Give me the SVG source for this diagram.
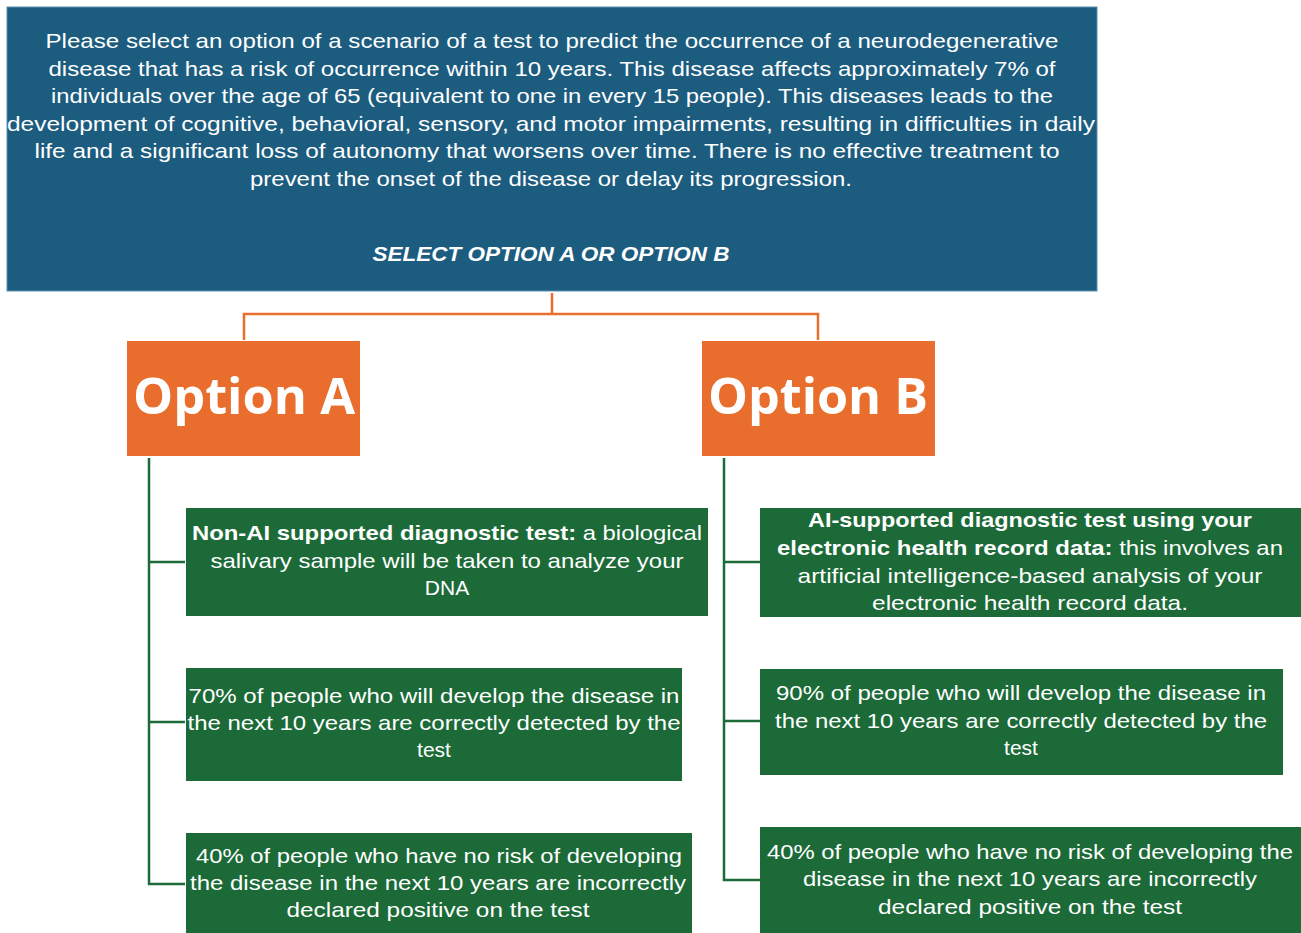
<svg xmlns="http://www.w3.org/2000/svg" width="1301" height="933" viewBox="0 0 1301 933">
<style>
.t{font-family:"Liberation Sans",Arial,sans-serif;fill:#fff;font-size:21px;text-anchor:middle}
.b{font-weight:bold}
.opt{font-family:"Open Sans","Liberation Sans",sans-serif;font-weight:bold;fill:#fff;font-size:50px;text-anchor:middle}
.g{fill:#1b6a37}
.o{fill:#e96e2e}
.cg{stroke:#1b6a37;stroke-width:2.5;fill:none}
.co{stroke:#e96e2e;stroke-width:2.5;fill:none}
</style>
<rect width="1301" height="933" fill="#fff"/>
<g id="connectors">
<path class="co" d="M552 293V314M244 340V314H818V340"/>
<path class="cg" d="M149 458V884H185M149 562H185M149 722H185"/>
<path class="cg" d="M724 458V880H760M724 562H760M724 721H760"/>
</g>
<g id="header">
<rect x="7" y="7" width="1090" height="284" fill="#1c5c7f" stroke="#5d8fb0" stroke-width="1"/>
<text class="t" x="552" y="48" textLength="1013" lengthAdjust="spacingAndGlyphs">Please select an option of a scenario of a test to predict the occurrence of a neurodegenerative</text>
<text class="t" x="552" y="76" textLength="1007" lengthAdjust="spacingAndGlyphs">disease that has a risk of occurrence within 10 years. This disease affects approximately 7% of</text>
<text class="t" x="552" y="103" textLength="1002" lengthAdjust="spacingAndGlyphs">individuals over the age of 65 (equivalent to one in every 15 people). This diseases leads to the</text>
<text class="t" x="551" y="131" textLength="1088" lengthAdjust="spacingAndGlyphs">development of cognitive, behavioral, sensory, and motor impairments, resulting in difficulties in daily</text>
<text class="t" x="547" y="158" textLength="1025" lengthAdjust="spacingAndGlyphs">life and a significant loss of autonomy that worsens over time. There is no effective treatment to</text>
<text class="t" x="551" y="186" textLength="602" lengthAdjust="spacingAndGlyphs">prevent the onset of the disease or delay its progression.</text>
<text class="t b" x="551" y="261" font-style="italic" textLength="357" lengthAdjust="spacingAndGlyphs">SELECT OPTION A OR OPTION B</text>
</g>
<g id="optionA">
<rect class="o" x="127" y="341" width="233" height="115"/>
<text class="opt" x="244" y="414" textLength="222" lengthAdjust="spacingAndGlyphs">Option A</text>
</g>
<g id="optionB">
<rect class="o" x="702" y="341" width="233" height="115"/>
<text class="opt" x="818" y="414" textLength="220" lengthAdjust="spacingAndGlyphs">Option B</text>
</g>
<g id="a1">
<rect class="g" x="186" y="508" width="522" height="108"/>
<text class="t" x="447" y="540" textLength="510" lengthAdjust="spacingAndGlyphs"><tspan class="b">Non-AI supported diagnostic test:</tspan> a biological</text>
<text class="t" x="447" y="568" textLength="473" lengthAdjust="spacingAndGlyphs">salivary sample will be taken to analyze your</text>
<text class="t" x="447" y="595">DNA</text>
</g>
<g id="a2">
<rect class="g" x="186" y="668" width="496" height="113"/>
<text class="t" x="434" y="703" textLength="491" lengthAdjust="spacingAndGlyphs">70% of people who will develop the disease in</text>
<text class="t" x="434" y="730" textLength="493" lengthAdjust="spacingAndGlyphs">the next 10 years are correctly detected by the</text>
<text class="t" x="434" y="757">test</text>
</g>
<g id="a3">
<rect class="g" x="186" y="833" width="506" height="100"/>
<text class="t" x="439" y="863" textLength="486" lengthAdjust="spacingAndGlyphs">40% of people who have no risk of developing</text>
<text class="t" x="438" y="890" textLength="496" lengthAdjust="spacingAndGlyphs">the disease in the next 10 years are incorrectly</text>
<text class="t" x="438" y="917" textLength="303" lengthAdjust="spacingAndGlyphs">declared positive on the test</text>
</g>
<g id="b1">
<rect class="g" x="760" y="508" width="541" height="109"/>
<text class="t b" x="1030" y="527" textLength="444" lengthAdjust="spacingAndGlyphs">AI-supported diagnostic test using your</text>
<text class="t" x="1030" y="555" textLength="506" lengthAdjust="spacingAndGlyphs"><tspan class="b">electronic health record data:</tspan> this involves an</text>
<text class="t" x="1030" y="583" textLength="465" lengthAdjust="spacingAndGlyphs">artificial intelligence-based analysis of your</text>
<text class="t" x="1030" y="610" textLength="316" lengthAdjust="spacingAndGlyphs">electronic health record data.</text>
</g>
<g id="b2">
<rect class="g" x="760" y="669" width="523" height="106"/>
<text class="t" x="1021" y="700" textLength="490" lengthAdjust="spacingAndGlyphs">90% of people who will develop the disease in</text>
<text class="t" x="1021" y="728" textLength="492" lengthAdjust="spacingAndGlyphs">the next 10 years are correctly detected by the</text>
<text class="t" x="1021" y="755">test</text>
</g>
<g id="b3">
<rect class="g" x="760" y="827" width="541" height="106"/>
<text class="t" x="1030" y="859" textLength="526" lengthAdjust="spacingAndGlyphs">40% of people who have no risk of developing the</text>
<text class="t" x="1030" y="886" textLength="454" lengthAdjust="spacingAndGlyphs">disease in the next 10 years are incorrectly</text>
<text class="t" x="1030" y="914" textLength="304" lengthAdjust="spacingAndGlyphs">declared positive on the test</text>
</g>
</svg>
